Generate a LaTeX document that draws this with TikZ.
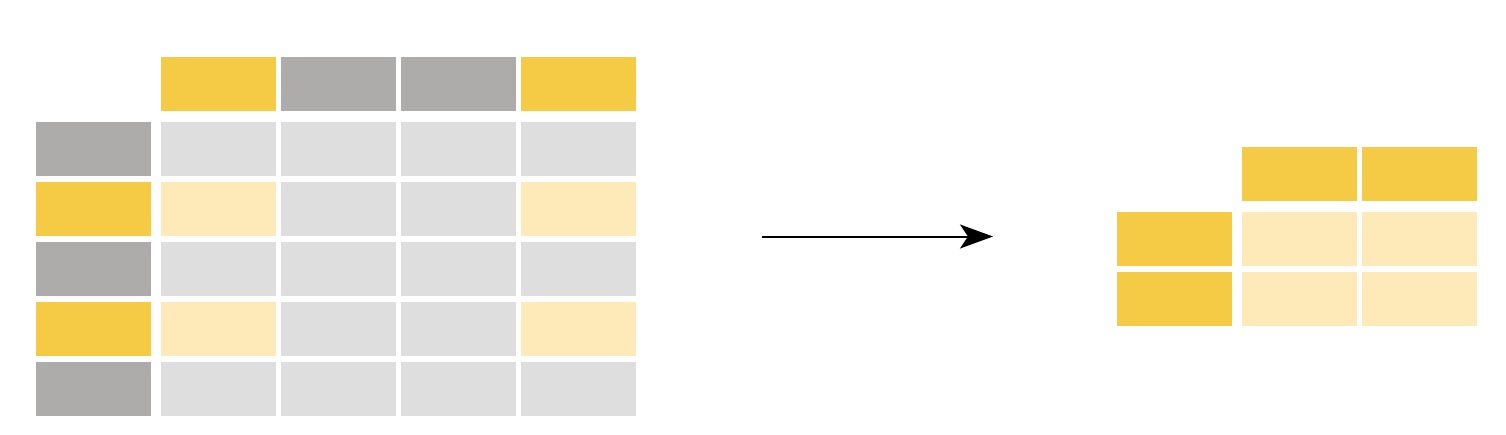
\documentclass[tikz,border=0pt]{standalone}
\usetikzlibrary{arrows.meta}
\definecolor{ylw}{HTML}{F5CB45}
\definecolor{gry}{HTML}{ADACAA}
\definecolor{lgry}{HTML}{DEDEDE}
\definecolor{lylw}{HTML}{FDEAB8}
\tikzset{
  cell/.style={minimum width=115pt, minimum height=54pt, inner sep=0pt, outer sep=0pt, anchor=north west, draw=none},
  cy/.style={cell, fill=ylw},
  cg/.style={cell, fill=gry},
  clg/.style={cell, fill=lgry},
  cly/.style={cell, fill=lylw},
  conn/.style={line width=2pt, -{Stealth[length=33pt, width=24pt, inset=8pt]}}
}
\begin{document}
\begin{tikzpicture}[x=1pt,y=-1pt]
\useasboundingbox[fill=white] (0,0) rectangle (1506,434);
% left header
\node[cy] (h1) at (161,57) {};
\node[cg] (h2) at (281,57) {};
\node[cg] (h3) at (401,57) {};
\node[cy] (h4) at (521,57) {};
% row labels
\node[cg] (r1) at (36,122) {};
\node[cy] (r2) at (36,182) {};
\node[cg] (r3) at (36,242) {};
\node[cy] (r4) at (36,302) {};
\node[cg] (r5) at (36,362) {};
% body
\foreach \r/\y/\t in {1/122/g,2/182/y,3/242/g,4/302/y,5/362/g}{
  \foreach \c/\x in {1/161,2/281,3/401,4/521}{
    \ifnum\c=1 \def\st{c\t}\else\ifnum\c=4 \def\st{c\t}\else\def\st{g}\fi\fi
    \if\t y
      \ifnum\c=2 \node[clg] (b\r\c) at (\x,\y) {};\else\ifnum\c=3 \node[clg] (b\r\c) at (\x,\y) {};\else \node[cly] (b\r\c) at (\x,\y) {};\fi\fi
    \else
      \node[clg] (b\r\c) at (\x,\y) {};
    \fi
  }
}
% arrow
\coordinate (as) at (762,236.5);
\coordinate (ae) at (993,236.5);
\draw[conn] (as) -- (ae);
% right table
\node[cy] (rh1) at (1242,147) {};
\node[cy] (rh2) at (1362,147) {};
\node[cy] (rr1) at (1117,212) {};
\node[cy] (rr2) at (1117,272) {};
\node[cly] (rb11) at (1242,212) {};
\node[cly] (rb12) at (1362,212) {};
\node[cly] (rb21) at (1242,272) {};
\node[cly] (rb22) at (1362,272) {};
\end{tikzpicture}
\end{document}
